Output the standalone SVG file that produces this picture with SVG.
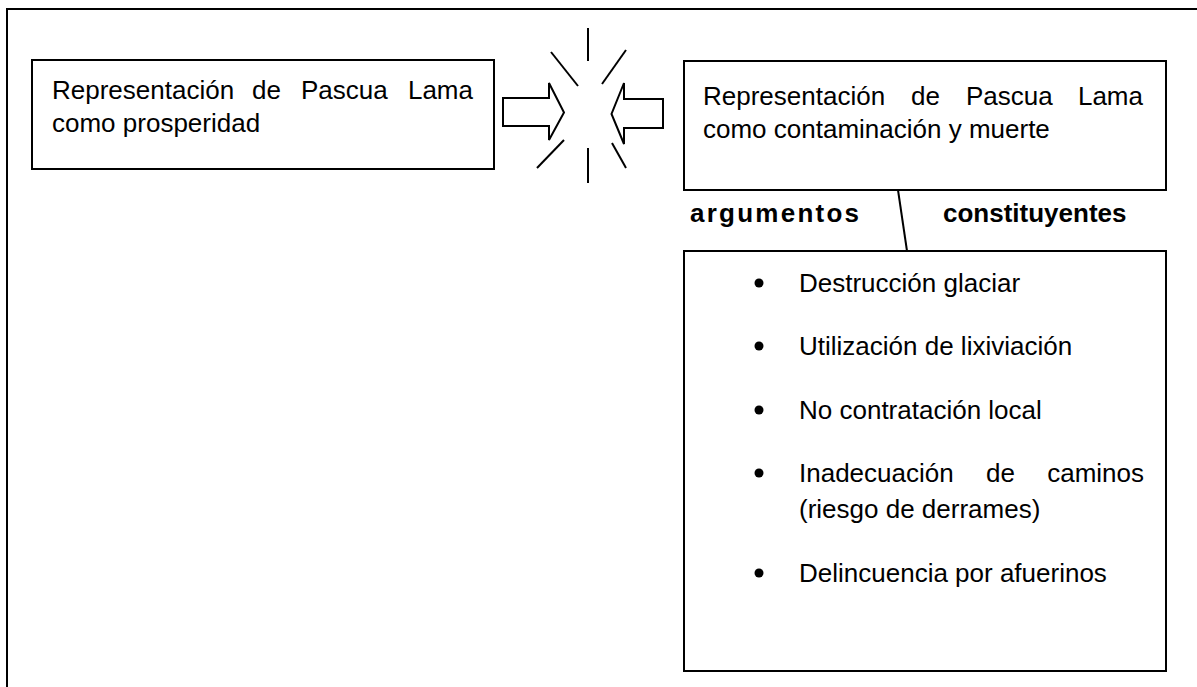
<svg xmlns="http://www.w3.org/2000/svg" width="1197" height="687" viewBox="0 0 1197 687">
<style>
.box{fill:#fff;stroke:#000;stroke-width:2}
.t{font-family:"Liberation Sans",Arial,sans-serif;font-size:26px;fill:#000}
.b{font-family:"Liberation Sans",Arial,sans-serif;font-size:26px;font-weight:bold;fill:#000}
.ln{stroke:#000;stroke-width:2;fill:none}
.arr{fill:#fff;stroke:#000;stroke-width:2;stroke-linejoin:miter}
.dot{fill:#000}
</style>
<rect width="1197" height="687" fill="#fff"/>
<path id="frame" class="ln" d="M7,687 V9 H1197"/>

<g id="node-prosperidad">
<rect class="box" x="32" y="60" width="462" height="109"/>
<text class="t" y="99"><tspan x="52">Representación</tspan><tspan x="252">de</tspan><tspan x="301">Pascua</tspan><tspan x="473" text-anchor="end">Lama</tspan></text>
<text class="t" x="52" y="132">como prosperidad</text>
</g>

<g id="node-contaminacion">
<rect class="box" x="684" y="61" width="482" height="129"/>
<text class="t" y="105"><tspan x="703">Representación</tspan><tspan x="911">de</tspan><tspan x="966">Pascua</tspan><tspan x="1143" text-anchor="end">Lama</tspan></text>
<text class="t" x="703" y="138">como contaminación y muerte</text>
</g>

<g id="node-argumentos">
<rect class="box" x="684" y="251" width="482" height="420"/>
<circle class="dot" cx="759" cy="283" r="4.5"/>
<text class="t" x="799" y="292">Destrucción glaciar</text>
<circle class="dot" cx="759" cy="346" r="4.5"/>
<text class="t" x="799" y="355">Utilización de lixiviación</text>
<circle class="dot" cx="759" cy="410" r="4.5"/>
<text class="t" x="799" y="419">No contratación local</text>
<circle class="dot" cx="759" cy="473" r="4.5"/>
<text class="t" y="482"><tspan x="799">Inadecuación</tspan><tspan x="986">de</tspan><tspan x="1144" text-anchor="end">caminos</tspan></text>
<text class="t" x="799" y="518">(riesgo de derrames)</text>
<circle class="dot" cx="759" cy="573" r="4.5"/>
<text class="t" x="799" y="582">Delincuencia por afuerinos</text>
</g>

<g id="labels">
<text class="b" x="690" y="222" textLength="169" lengthAdjust="spacing">argumentos</text>
<text class="b" x="943" y="222">constituyentes</text>
</g>

<g id="connectors">
<polygon class="arr" points="503,98 549,98 549,83 564,112.5 549,140 549,126 503,126"/>
<polygon class="arr" points="663,99 624,99 624,83 611.5,114 624,144 624,128 663,128"/>
<line class="ln" x1="898" y1="190" x2="907" y2="251"/>
</g>

<g id="clash">
<line class="ln" x1="588" y1="28" x2="588" y2="61"/>
<line class="ln" x1="551" y1="52" x2="578" y2="86"/>
<line class="ln" x1="626" y1="50" x2="602" y2="84"/>
<line class="ln" x1="564" y1="140" x2="537" y2="168"/>
<line class="ln" x1="588" y1="148" x2="588" y2="183"/>
<line class="ln" x1="612" y1="143" x2="626" y2="168"/>
</g>
</svg>
